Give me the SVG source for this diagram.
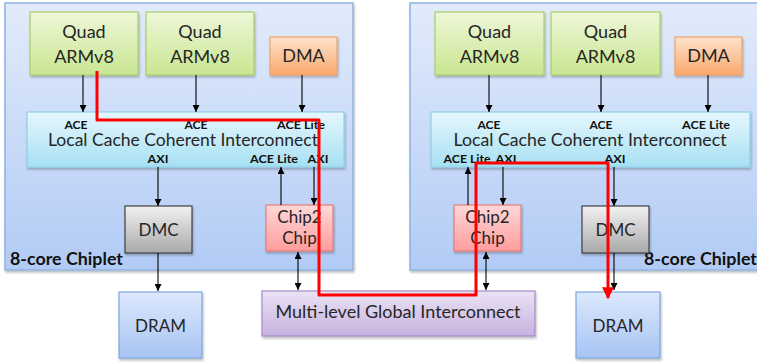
<svg xmlns="http://www.w3.org/2000/svg" width="757" height="363" viewBox="0 0 757 363">
<defs>
<linearGradient id="gChiplet" x1="0" y1="0" x2="0" y2="1"><stop offset="0" stop-color="#e2ebfb"/><stop offset="1" stop-color="#b2cbf5"/></linearGradient>
<linearGradient id="gQuad" x1="0" y1="0" x2="0" y2="1"><stop offset="0" stop-color="#eef7d8"/><stop offset="1" stop-color="#c9e691"/></linearGradient>
<linearGradient id="gDMA" x1="0" y1="0" x2="0" y2="1"><stop offset="0" stop-color="#fde3cc"/><stop offset="1" stop-color="#f9a86b"/></linearGradient>
<linearGradient id="gLCCI" x1="0" y1="0" x2="0" y2="1"><stop offset="0" stop-color="#e6f7fd"/><stop offset="1" stop-color="#a6e0f3"/></linearGradient>
<linearGradient id="gDMC" x1="0" y1="0" x2="0" y2="1"><stop offset="0" stop-color="#f2f2f2"/><stop offset="1" stop-color="#a9a9a9"/></linearGradient>
<linearGradient id="gC2C" x1="0" y1="0" x2="0" y2="1"><stop offset="0" stop-color="#ffd9d9"/><stop offset="1" stop-color="#ff9c9c"/></linearGradient>
<linearGradient id="gDRAM" x1="0" y1="0" x2="0" y2="1"><stop offset="0" stop-color="#dde8fc"/><stop offset="1" stop-color="#a7c4f3"/></linearGradient>
<linearGradient id="gMGI" x1="0" y1="0" x2="0" y2="1"><stop offset="0" stop-color="#ebe3f5"/><stop offset="1" stop-color="#c6b1de"/></linearGradient>
<filter id="sh" x="-10%" y="-10%" width="120%" height="130%"><feDropShadow dx="1" dy="2" stdDeviation="1" flood-color="#000" flood-opacity="0.25"/></filter>
<marker id="ah" viewBox="0 0 10 10" refX="10" refY="5" markerWidth="7" markerHeight="7" markerUnits="userSpaceOnUse" orient="auto-start-reverse"><path d="M0,0 L10,5 L0,10 z" fill="#000"/></marker>
<marker id="ahr" viewBox="0 0 10 10" refX="9" refY="5" markerWidth="4" markerHeight="4" orient="auto"><path d="M0,0 L10,5 L0,10 z" fill="#ff0000"/></marker>
</defs>
<style>
.chiplet{fill:url(#gChiplet);stroke:#8db3e2;stroke-width:1.5;filter:url(#sh)}
.quad{fill:url(#gQuad);stroke:#a9cf6a;stroke-width:1.2;filter:url(#sh)}
.dma{fill:url(#gDMA);stroke:#f0a46a;stroke-width:1.2;filter:url(#sh)}
.lcci{fill:url(#gLCCI);stroke:#8fd0e8;stroke-width:1.2;filter:url(#sh)}
.dmc{fill:url(#gDMC);stroke:#404040;stroke-width:1.2;filter:url(#sh)}
.c2c{fill:url(#gC2C);stroke:#e87a7a;stroke-width:1.2;filter:url(#sh)}
.dram{fill:url(#gDRAM);stroke:#7ea6dc;stroke-width:1.2;filter:url(#sh)}
.mgi{fill:url(#gMGI);stroke:#a889c8;stroke-width:1.2;filter:url(#sh)}
text{font-family:Lato,"Open Sans","Liberation Sans",sans-serif;fill:#262626}
.big{font-size:18px;text-anchor:middle}
.mid{font-size:17px;text-anchor:middle}
.sm{font-size:11.5px;font-weight:bold;text-anchor:middle;fill:#111}
.lbl{font-size:16.5px;font-weight:bold;fill:#111}
.conn{stroke:#000;stroke-width:1.1;fill:none}
.red{stroke:#ff0000;stroke-width:3;fill:none;stroke-linejoin:round}
</style>

<g id="chiplet-left">
<rect class="chiplet" x="5" y="3" width="348" height="267"/>
<text class="lbl" x="10" y="265" textLength="113" lengthAdjust="spacingAndGlyphs">8-core Chiplet</text>
</g>
<g id="chiplet-right">
<rect class="chiplet" x="410" y="3" width="352" height="267"/>
<text class="lbl" x="644" y="265" textLength="113" lengthAdjust="spacingAndGlyphs">8-core Chiplet</text>
</g>

<g id="quad-l1"><rect class="quad" x="30" y="12" width="108" height="63"/><text class="big" x="84" y="38">Quad</text><text class="big" x="84" y="63">ARMv8</text></g>
<g id="quad-l2"><rect class="quad" x="146" y="12" width="108" height="63"/><text class="big" x="200" y="38">Quad</text><text class="big" x="200" y="63">ARMv8</text></g>
<g id="dma-l"><rect class="dma" x="270" y="37" width="67" height="38"/><text class="big" x="303.5" y="62">DMA</text></g>
<g id="lcci-l"><rect class="lcci" x="27" y="112" width="317" height="55"/>
<text class="mid" x="183" y="146" textLength="270" lengthAdjust="spacingAndGlyphs">Local Cache Coherent Interconnect</text>
<text class="sm" x="76" y="129" textLength="23" lengthAdjust="spacingAndGlyphs">ACE</text><text class="sm" x="196" y="129" textLength="23" lengthAdjust="spacingAndGlyphs">ACE</text><text class="sm" x="301" y="129" textLength="48" lengthAdjust="spacingAndGlyphs">ACE Lite</text>
<text class="sm" x="158" y="163" textLength="21" lengthAdjust="spacingAndGlyphs">AXI</text><text class="sm" x="274" y="163" textLength="48" lengthAdjust="spacingAndGlyphs">ACE Lite</text><text class="sm" x="318" y="163" textLength="21" lengthAdjust="spacingAndGlyphs">AXI</text></g>
<g id="dmc-l"><rect class="dmc" x="125" y="206" width="67" height="47"/><text class="mid" x="158.5" y="236">DMC</text></g>
<g id="c2c-l"><rect class="c2c" x="266" y="205" width="67" height="46"/><text class="mid" x="299.5" y="223">Chip2</text><text class="mid" x="299.5" y="244">Chip</text></g>
<g id="dram-l"><rect class="dram" x="119" y="292" width="83" height="66"/><text class="mid" x="160.5" y="332">DRAM</text></g>

<g id="quad-r1"><rect class="quad" x="435" y="12" width="109" height="63"/><text class="big" x="489.5" y="38">Quad</text><text class="big" x="489.5" y="63">ARMv8</text></g>
<g id="quad-r2"><rect class="quad" x="551" y="12" width="109" height="63"/><text class="big" x="605.5" y="38">Quad</text><text class="big" x="605.5" y="63">ARMv8</text></g>
<g id="dma-r"><rect class="dma" x="675" y="37" width="67" height="38"/><text class="big" x="708.5" y="62">DMA</text></g>
<g id="lcci-r"><rect class="lcci" x="431" y="112" width="319" height="55"/>
<text class="mid" x="590" y="146" textLength="273" lengthAdjust="spacingAndGlyphs">Local Cache Coherent Interconnect</text>
<text class="sm" x="489" y="129" textLength="23" lengthAdjust="spacingAndGlyphs">ACE</text><text class="sm" x="601" y="129" textLength="23" lengthAdjust="spacingAndGlyphs">ACE</text><text class="sm" x="706" y="129" textLength="48" lengthAdjust="spacingAndGlyphs">ACE Lite</text>
<text class="sm" x="467" y="163" textLength="47" lengthAdjust="spacingAndGlyphs">ACE Lite</text><text class="sm" x="506" y="163" textLength="21" lengthAdjust="spacingAndGlyphs">AXI</text><text class="sm" x="615" y="163" textLength="21" lengthAdjust="spacingAndGlyphs">AXI</text></g>
<g id="c2c-r"><rect class="c2c" x="454" y="205" width="67" height="46"/><text class="mid" x="487.5" y="223">Chip2</text><text class="mid" x="487.5" y="244">Chip</text></g>
<g id="dmc-r"><rect class="dmc" x="582" y="206" width="67" height="47"/><text class="mid" x="615.5" y="236">DMC</text></g>
<g id="dram-r"><rect class="dram" x="576" y="292" width="84" height="66"/><text class="mid" x="618" y="332">DRAM</text></g>

<g id="mgi"><rect class="mgi" x="262" y="291" width="273" height="45"/><text class="mid" x="398" y="318" textLength="245" lengthAdjust="spacingAndGlyphs">Multi-level Global Interconnect</text></g>

<g id="connectors">
<line class="conn" x1="83" y1="75" x2="83" y2="112" marker-end="url(#ah)"/>
<line class="conn" x1="196" y1="75" x2="196" y2="112" marker-end="url(#ah)"/>
<line class="conn" x1="302" y1="75" x2="302" y2="112" marker-end="url(#ah)"/>
<line class="conn" x1="158" y1="167" x2="158" y2="206" marker-end="url(#ah)"/>
<line class="conn" x1="158" y1="253" x2="158" y2="291" marker-end="url(#ah)"/>
<line class="conn" x1="281" y1="205" x2="281" y2="167" marker-end="url(#ah)"/>
<line class="conn" x1="314" y1="167" x2="314" y2="205" marker-end="url(#ah)"/>
<line class="conn" x1="298" y1="252" x2="298" y2="290" marker-start="url(#ah)" marker-end="url(#ah)"/>

<line class="conn" x1="489" y1="75" x2="489" y2="112" marker-end="url(#ah)"/>
<line class="conn" x1="601" y1="75" x2="601" y2="112" marker-end="url(#ah)"/>
<line class="conn" x1="708" y1="75" x2="708" y2="112" marker-end="url(#ah)"/>
<line class="conn" x1="468" y1="205" x2="468" y2="167" marker-end="url(#ah)"/>
<line class="conn" x1="503" y1="167" x2="503" y2="205" marker-end="url(#ah)"/>
<line class="conn" x1="486" y1="252" x2="486" y2="290" marker-start="url(#ah)" marker-end="url(#ah)"/>
<line class="conn" x1="614" y1="167" x2="614" y2="206" marker-end="url(#ah)"/>
<line class="conn" x1="614" y1="253" x2="614" y2="290" marker-end="url(#ah)"/>

<path class="red" d="M97,71 L97,120 L319,120 L319,295 L476,295 L476,163 L608,163 L608,298" marker-end="url(#ahr)"/>
</g>
</svg>
